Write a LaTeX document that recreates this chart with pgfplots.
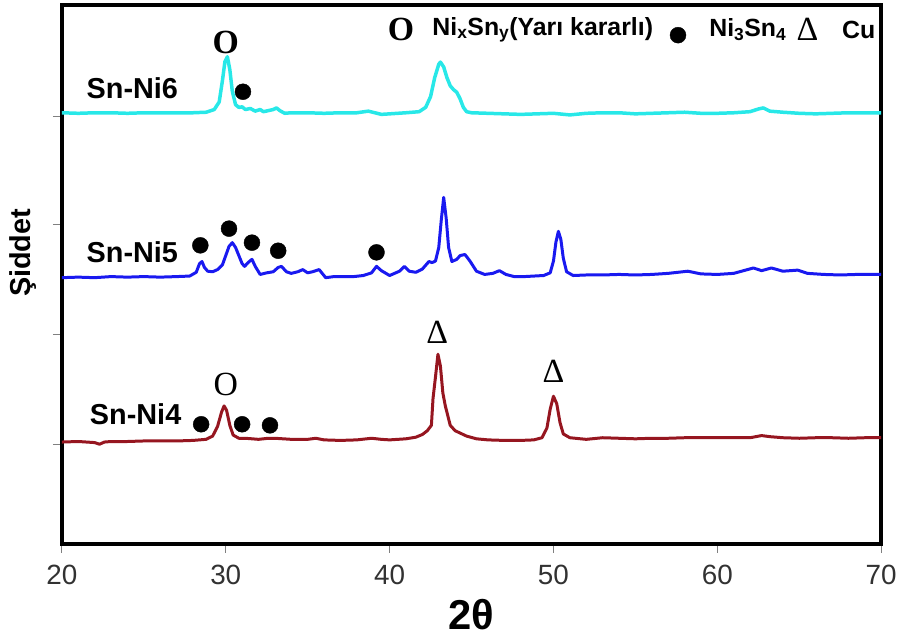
\documentclass[border=0pt]{standalone}
\usepackage{fontspec}
\setmainfont{Liberation Sans}
\newfontfamily\seriffont{Liberation Serif}
\usepackage{pgfplots}
\pgfplotsset{compat=1.18}
\definecolor{ccyan}{RGB}{40,232,232}
\definecolor{cblue}{RGB}{25,25,240}
\definecolor{cred}{RGB}{150,22,32}
\definecolor{ticklab}{RGB}{50,50,50}
\begin{document}
\begin{tikzpicture}
\begin{axis}[
  scale only axis, width=821bp, height=540bp,
  xmin=20, xmax=70, ymin=0, ymax=100,
  xtick={20,30,40,50,60,70},
  ytick={18.5,38.9,59.3,79.4}, yticklabels={},
  xtick pos=left, ytick pos=left,
  tick align=outside, major tick length=9bp,
  tick style={gray, line width=0.8bp},
  axis line style={line width=4.5bp},
  /pgf/number format/assume math mode=true,
  xticklabel style={font=\fontsize{28}{30}\selectfont, text=ticklab, yshift=-9bp},
  xlabel={\bfseries 2θ},
  xlabel style={font=\fontsize{42}{46}\selectfont, at={(axis description cs:0.5,-0.1315)}, anchor=center},
  ylabel={\bfseries Şiddet},
  ylabel style={font=\fontsize{29}{32}\selectfont, at={(axis description cs:-0.0475,0.54)}, anchor=center},
  clip=false,
]
% Sn-Ni6
\addplot[ccyan, line width=3.5bp, line join=round] coordinates {
(20,80.0)(21,79.9)(22,80.0)(23,80.0)(24,79.9)(25,80.0)(26,80.0)(27,80.0)(28,80.0)(28.8,80.1)
(29.3,80.6)(29.6,82)(29.8,86)(29.95,89.5)(30.1,90.4)(30.25,88)(30.4,84)(30.6,81.5)(30.8,81.0)
(31.0,81.1)(31.2,80.6)(31.5,80.8)(31.8,80.3)(32.1,80.6)(32.3,80.2)(32.6,80.4)(32.9,80.6)(33.1,80.9)
(33.3,80.4)(33.6,79.9)(34,80.0)(35,80.0)(36,79.9)(37,80.0)(38,80.0)(38.7,80.3)(39.5,79.7)(40,79.8)
(41,80.0)(41.8,80.2)(42.2,81)(42.5,83)(42.75,86.5)(43.0,89.0)(43.1,89.4)(43.3,88.5)(43.5,86.5)
(43.7,85)(43.9,84.3)(44.1,83.8)(44.3,82.6)(44.5,81)(44.7,80.2)(45,80.0)(46,79.9)(47,79.8)(48,79.7)
(49,79.8)(50,79.9)(51,79.6)(52,79.9)(53,80.0)(54,80.0)(55,79.8)(56,79.9)(57,80.0)(58,80.1)(59,79.9)
(60,79.9)(61,80.0)(62,80.2)(62.5,80.7)(62.8,80.9)(63.2,80.3)(64,80.1)(65,79.9)(66,79.8)(67,79.9)
(68,80.0)(69,80.0)(70,80.0)
};
% Sn-Ni5
\addplot[cblue, line width=3bp, line join=round] coordinates {
(20,49.4)(21,49.5)(22,49.4)(23,49.6)(24,49.5)(25,49.6)(26,49.5)(27,49.6)(27.8,49.7)(28.2,50.4)
(28.4,52.0)(28.55,52.4)(28.7,51.3)(28.9,50.6)(29.2,50.5)(29.5,50.9)(29.8,51.8)(30.0,53.5)(30.2,55.2)
(30.4,55.9)(30.6,55.0)(30.8,53.5)(31.0,52.0)(31.15,51.5)(31.4,52.3)(31.6,52.8)(31.8,51.5)(32.1,50.0)
(32.5,50.3)(32.9,50.5)(33.2,51.3)(33.4,51.5)(33.7,50.5)(34.0,50.2)(34.4,50.5)(34.7,50.9)(35.0,50.3)
(35.3,50.5)(35.7,50.9)(36.1,49.4)(36.6,49.6)(37.2,49.6)(37.8,49.6)(38.4,49.8)(38.9,50.3)(39.2,51.5)
(39.5,50.7)(40.0,49.8)(40.3,50.2)(40.6,50.6)(40.9,51.5)(41.2,50.6)(41.6,50.4)(42.0,51.0)(42.4,52.4)
(42.6,52.2)(42.8,52.5)(43.0,55)(43.15,60)(43.3,64.3)(43.45,60.5)(43.6,55)(43.8,52.4)(44.1,52.8)
(44.3,53.5)(44.6,53.7)(44.9,52.5)(45.3,50.6)(45.8,50.0)(46.3,50.2)(46.7,50.7)(47.1,50.0)(47.6,49.6)
(48.2,49.6)(48.8,49.7)(49.4,49.8)(49.8,50.3)(50.0,52.5)(50.15,56)(50.3,58.0)(50.45,56.5)(50.6,53)
(50.8,50.5)(51.2,49.8)(52,49.9)(53,49.9)(54,50.0)(55,49.9)(56,50.0)(57,50.2)(58.2,50.6)(59,50.1)
(60,50.0)(61,50.2)(62.2,51.2)(62.7,50.7)(63.3,51.2)(64,50.6)(64.9,50.8)(65.5,50.2)(66.5,50.0)
(67.5,49.9)(68.5,50.0)(69.5,50.0)(70,50.0)
};
% Sn-Ni4
\addplot[cred, line width=3bp, line join=round] coordinates {
(20,18.9)(21,19.0)(22,18.8)(22.3,18.5)(22.6,18.9)(23,19.0)(24,19.0)(25,19.1)(26,19.1)(27,19.1)
(28,19.2)(28.8,19.4)(29.2,20.0)(29.5,21.8)(29.75,24.5)(29.9,25.6)(30.05,24.8)(30.25,22.0)(30.45,20.2)
(30.8,19.6)(31.2,19.6)(31.6,19.5)(32,19.4)(32.6,19.6)(33,19.6)(34,19.4)(35,19.4)(35.5,19.6)(36,19.3)
(37,19.2)(38,19.3)(38.9,19.6)(39.5,19.4)(40,19.3)(41,19.5)(41.6,19.8)(42.0,20.3)(42.3,21.0)
(42.55,22)(42.65,27)(42.8,31)(42.95,35.2)(43.1,33)(43.25,28)(43.4,25.6)(43.7,22)(44.0,21.0)
(44.7,20.0)(45.3,19.5)(46,19.3)(47,19.2)(48,19.2)(48.8,19.3)(49.3,19.7)(49.6,21.5)(49.8,25)
(50.0,27.4)(50.2,26)(50.4,22.5)(50.6,20.4)(51,19.7)(52,19.4)(53,19.7)(54,19.6)(55,19.5)(56,19.6)
(57,19.6)(58,19.7)(59,19.7)(60,19.7)(61,19.7)(62,19.7)(62.7,20.1)(63.2,19.9)(64,19.7)(65,19.6)
(66,19.7)(67,19.7)(68,19.6)(69,19.7)(70,19.7)
};
% phase markers (Ni3Sn4)
\addplot[only marks, mark=*, mark size=8bp, black] coordinates {
(31.05,83.9)
(28.45,55.4)(30.2,58.5)(31.6,55.9)(33.2,54.4)(39.2,54.1)
(28.5,22.2)(31.0,22.2)(32.7,22.0)
(57.6,94.4)
};
% labels
\node[anchor=west, font=\fontsize{29}{32}\selectfont\bfseries] at (axis cs:21.3,84.6) {Sn-Ni6};
\node[anchor=west, font=\fontsize{29}{32}\selectfont\bfseries] at (axis cs:21.3,54.1) {Sn-Ni5};
\node[anchor=west, font=\fontsize{29}{32}\selectfont\bfseries] at (axis cs:21.5,24.1) {Sn-Ni4};
\node[font=\fontsize{34}{36}\selectfont\seriffont\bfseries] at (axis cs:30.0,93.0) {O};
\node[font=\fontsize{34}{36}\selectfont\seriffont] at (axis cs:30.0,29.6) {O};
\node[font=\fontsize{34}{36}\selectfont\seriffont] at (axis cs:42.9,39.3) {Δ};
\node[font=\fontsize{34}{36}\selectfont\seriffont] at (axis cs:50.0,32.0) {Δ};
% legend line
\node[font=\fontsize{34}{36}\selectfont\seriffont\bfseries] at (axis cs:40.7,95.4) {O};
\node[anchor=west, font=\fontsize{25}{28}\selectfont\bfseries] at (axis cs:42.4,95.4) {Ni\textsubscript{x}Sn\textsubscript{y}(Yarı kararlı)};
\node[anchor=west, font=\fontsize{25}{28}\selectfont\bfseries] at (axis cs:59.3,95.4) {Ni\textsubscript{3}Sn\textsubscript{4}};
\node[font=\fontsize{34}{36}\selectfont\seriffont] at (axis cs:65.5,95.4) {Δ};
\node[anchor=west, font=\fontsize{25}{28}\selectfont\bfseries] at (axis cs:67.4,95.4) {Cu};
\end{axis}
\path ([xshift=-62bp,yshift=-96bp]current axis.south west) rectangle ([xshift=17bp,yshift=5bp]current axis.north east);
\end{tikzpicture}
\end{document}
